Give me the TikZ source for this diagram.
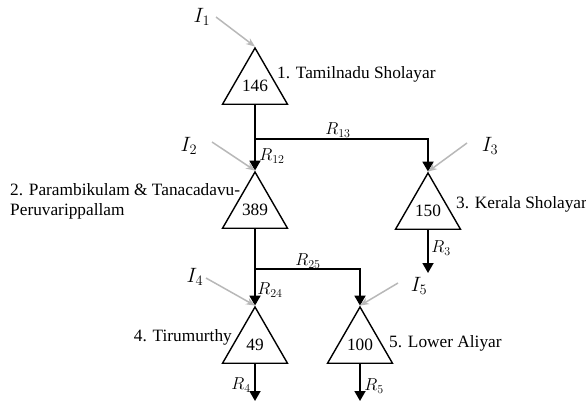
\documentclass[tikz,border=0pt]{standalone}
\usepackage{fontspec}
\setmainfont{Liberation Serif}
\usetikzlibrary{arrows.meta,shapes.geometric}
\begin{document}
\begin{tikzpicture}[x=1pt,y=-1pt,
  font=\fontsize{17.3}{20}\selectfont,
  res/.style={regular polygon, regular polygon sides=3, minimum size=75pt, inner sep=0pt, draw, line width=1.4pt},
  flow/.style={line width=1.8pt, -{Triangle[length=10pt,width=11pt]}},
  inflow/.style={draw=black!28, line width=1.5pt, -{Stealth[length=9pt,width=7pt]}},
  lab/.style={inner sep=0pt, font=\fontsize{18.5}{20}\selectfont},
  ilab/.style={inner sep=0pt, font=\fontsize{22}{24}\selectfont},
  txt/.style={inner sep=0pt}]
\useasboundingbox (0,0) rectangle (586,409);
% reservoirs
\node[res] (T1) at (255,85.5) {\raisebox{-4pt}{146}};
\node[res] (T2) at (255,209.5) {\raisebox{-4pt}{389}};
\node[res] (T3) at (428,210.5) {\raisebox{-4pt}{150}};
\node[res] (T4) at (255,344.5) {\raisebox{-4pt}{49}};
\node[res] (T5) at (360,344.5) {\raisebox{-4pt}{100}};
% names
\node[txt, anchor=base west] (n1) at (277,79) {1. Tamilnadu Sholayar};
\node[txt, anchor=north west, align=left] (n2) at (10,183) {2. Parambikulam \& Tanacadavu-\\Peruvarippallam};
\node[txt, anchor=base west] (n3) at (456,208) {3. Kerala Sholayar};
\node[txt, anchor=base east] (n4) at (232,341) {4. Tirumurthy};
\node[txt, anchor=base west] (n5) at (389,347) {5. Lower Aliyar};
% junctions and outlets
\coordinate (j13) at (255,139);
\coordinate (j25) at (255,269);
\coordinate (o3) at (428,273);
\coordinate (o4) at (255,401);
\coordinate (o5) at (360,401);
% releases
\draw[line width=1.8pt] (T1.side 2) -- (j13);
\draw[flow] (j13) -- (T2.corner 1);
\draw[flow] (j13) -| (T3.corner 1);
\draw[line width=1.8pt] (T2.side 2) -- (j25);
\draw[flow] (j25) -- (T4.corner 1);
\draw[flow] (j25) -| (T5.corner 1);
\draw[flow] (T3.side 2) -- (o3);
\draw[flow] (T4.side 2) -- (o4);
\draw[flow] (T5.side 2) -- (o5);
% release labels
\node[lab] (r12) at (272,156) {$R_{12}$};
\node[lab] (r13) at (338,130) {$R_{13}$};
\node[lab] (r3) at (441,248) {$R_{3}$};
\node[lab] (r24) at (270,290) {$R_{24}$};
\node[lab] (r25) at (308,261) {$R_{25}$};
\node[lab] (r4) at (241,385) {$R_{4}$};
\node[lab] (r5) at (374,386) {$R_{5}$};
% inflows
\node[ilab] (I1) at (202,17) {$I_{1}$};
\node[ilab] (I2) at (189,146) {$I_{2}$};
\node[ilab] (I3) at (490,146) {$I_{3}$};
\node[ilab] (I4) at (195,277) {$I_{4}$};
\node[ilab] (I5) at (419,286) {$I_{5}$};
\coordinate (s1) at (216,17);
\coordinate (s2) at (212,142);
\coordinate (s3) at (467,143);
\coordinate (s4) at (206,278);
\coordinate (s5) at (398,283);
\draw[inflow] (s1) -- (T1.corner 1);
\draw[inflow] (s2) -- (T2.corner 1);
\draw[inflow] (s3) -- (T3.corner 1);
\draw[inflow] (s4) -- (T4.corner 1);
\draw[inflow] (s5) -- (T5.corner 1);
\end{tikzpicture}
\end{document}
